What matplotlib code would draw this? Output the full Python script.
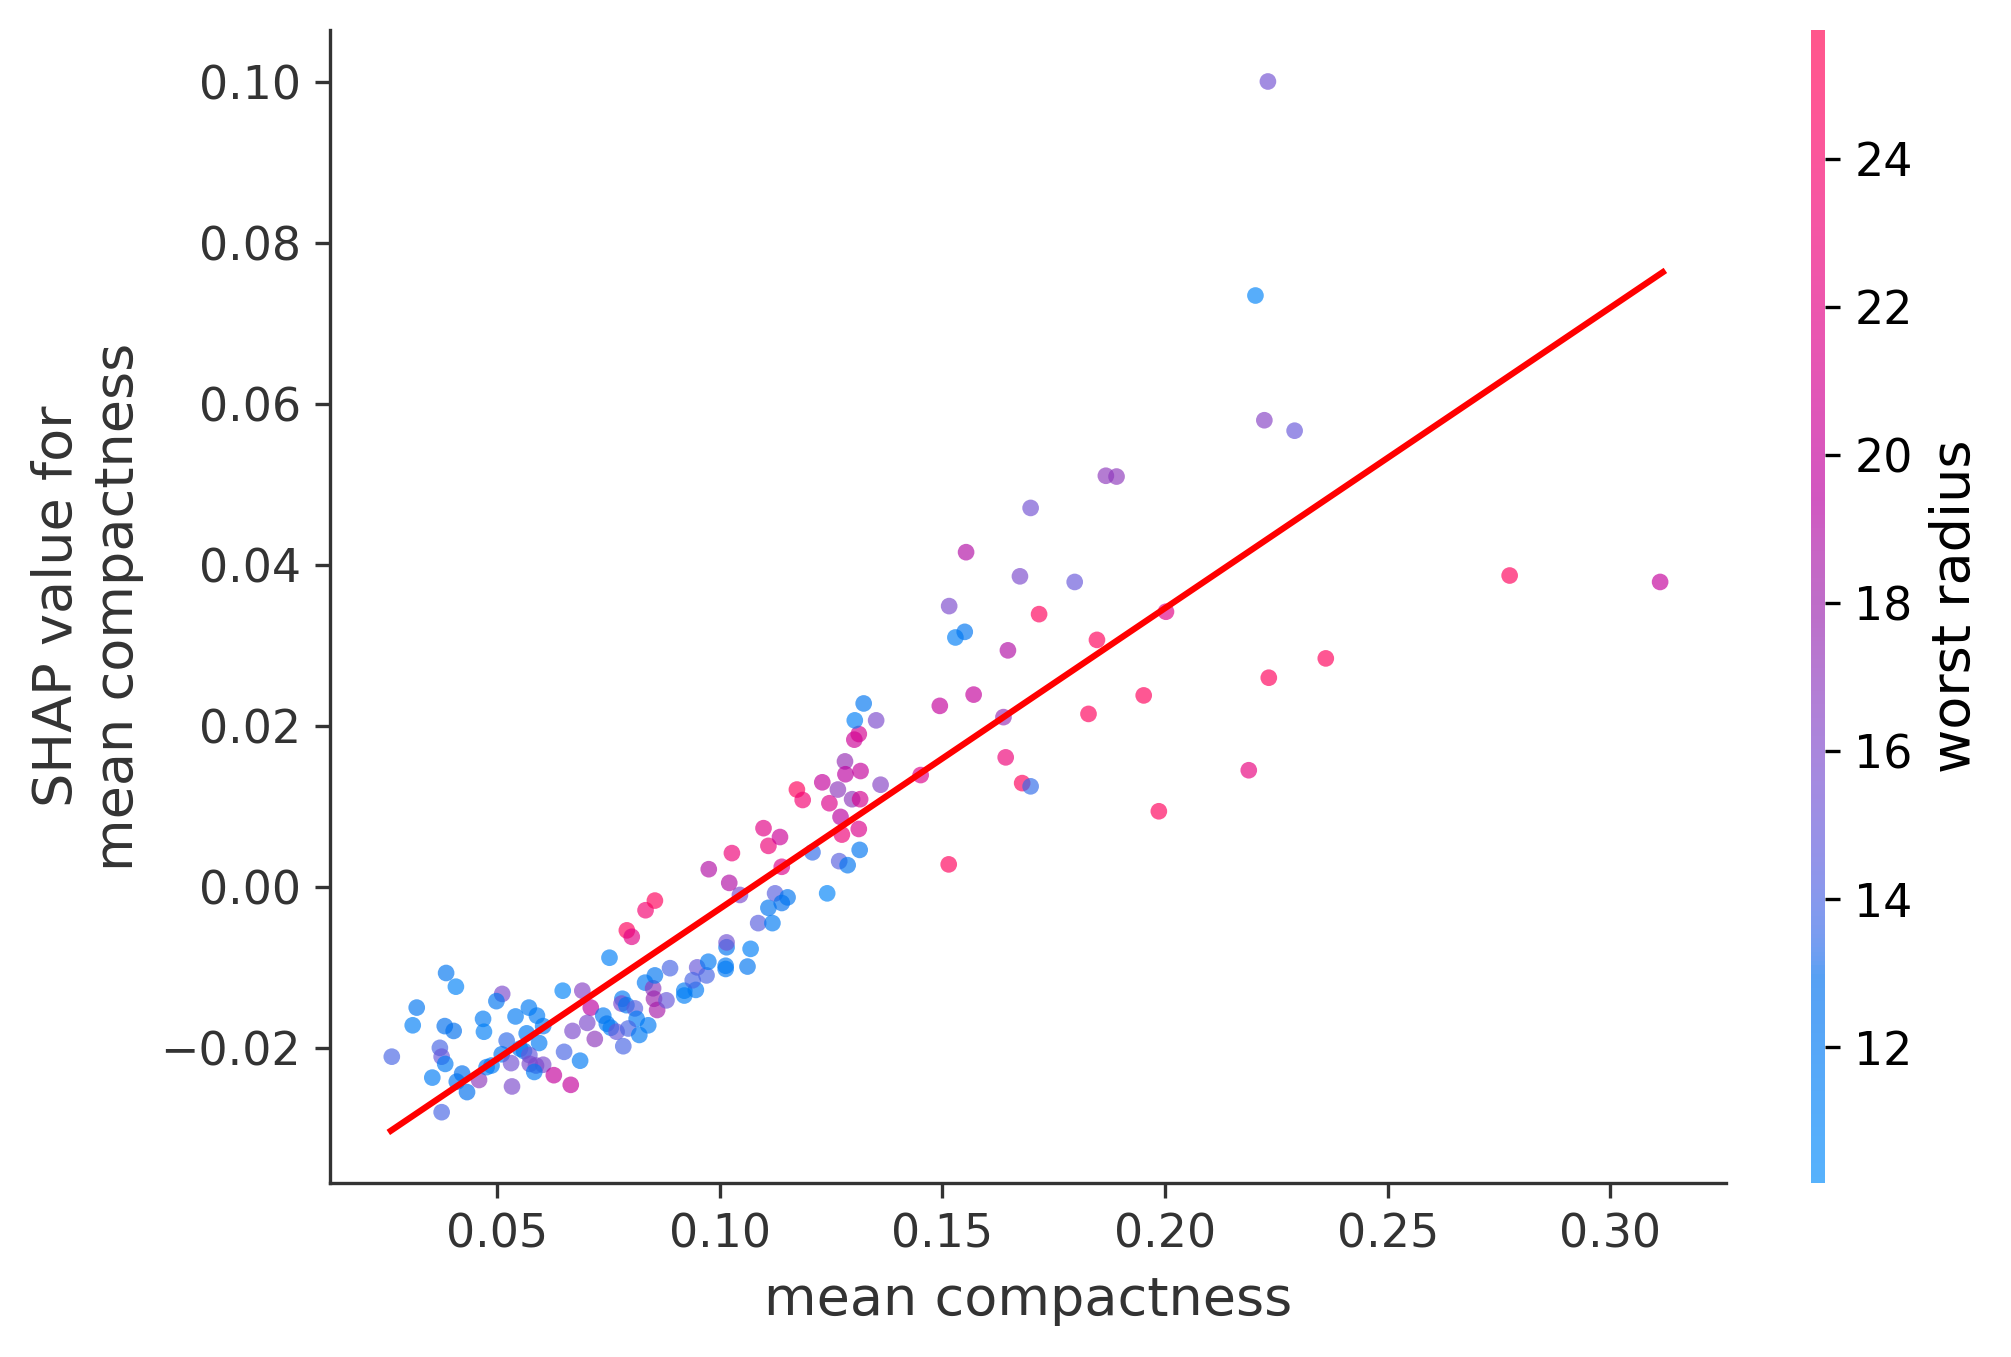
import numpy as np
import matplotlib
matplotlib.use("Agg")
import matplotlib.pyplot as plt
from matplotlib.colors import LinearSegmentedColormap, Normalize
from matplotlib.cm import ScalarMappable

# ---------------- data ----------------
mean_compactness = [
    0.0263, 0.0385, 0.0407, 0.0319, 0.0310, 0.0382, 0.0402, 0.0371, 0.0375, 0.0383,
    0.0354, 0.0375, 0.0432, 0.0409, 0.0421, 0.0459, 0.0476, 0.0487, 0.0511, 0.0498,
    0.0468, 0.0470, 0.0541, 0.0571, 0.0589, 0.0603, 0.0566, 0.0521, 0.0594, 0.0510,
    0.0551, 0.0560, 0.0531, 0.0572, 0.0573, 0.0587, 0.0603, 0.0583, 0.0533, 0.0627,
    0.0665, 0.0650, 0.0686, 0.0669, 0.0647, 0.0691, 0.0710, 0.0702, 0.0719, 0.0738,
    0.0746, 0.0755, 0.0768, 0.0783, 0.0781, 0.0779, 0.0790, 0.0809, 0.0813, 0.0794,
    0.0819, 0.0839, 0.0832, 0.0850, 0.0854, 0.0852, 0.0859, 0.0880, 0.0888, 0.0920,
    0.0920, 0.0946, 0.0949, 0.0970, 0.0974, 0.0939, 0.1015, 0.1015, 0.1013, 0.1013,
    0.1062, 0.1069, 0.0752, 0.0791, 0.0802,
    0.0833, 0.0854, 0.1045, 0.1021, 0.0975, 0.1027, 0.1086, 0.1118, 0.1109, 0.1124,
    0.1139, 0.1152, 0.1139, 0.1098, 0.1109, 0.1135, 0.1208, 0.1173, 0.1186, 0.1230,
    0.1246, 0.1271, 0.1274, 0.1265, 0.1281, 0.1282, 0.1316, 0.1297, 0.1315, 0.1312,
    0.1268, 0.1287, 0.1314, 0.1241, 0.1361, 0.1451, 0.1494, 0.1514, 0.1302, 0.1312,
    0.1303, 0.1323, 0.1351,
    0.1867, 0.1891, 0.1698, 0.1553, 0.1674, 0.1797, 0.1515, 0.1717, 0.1529, 0.1550,
    0.1647, 0.1847, 0.2002, 0.2361, 0.2233, 0.1570, 0.1952, 0.1828, 0.1637, 0.1642,
    0.1679, 0.1698, 0.2188, 0.1986,
    0.2231, 0.2203, 0.2223, 0.2291, 0.2774, 0.3112,
]
shap_values = [
    -0.0211, -0.0107, -0.0124, -0.0150, -0.0172, -0.0173, -0.0179, -0.0200, -0.0211, -0.0220,
    -0.0237, -0.0280, -0.0255, -0.0242, -0.0232, -0.0240, -0.0224, -0.0222, -0.0133, -0.0142,
    -0.0164, -0.0180, -0.0161, -0.0150, -0.0160, -0.0173, -0.0182, -0.0191, -0.0194, -0.0208,
    -0.0201, -0.0204, -0.0219, -0.0209, -0.0220, -0.0222, -0.0221, -0.0230, -0.0248, -0.0234,
    -0.0246, -0.0205, -0.0216, -0.0179, -0.0129, -0.0129, -0.0150, -0.0169, -0.0189, -0.0160,
    -0.0170, -0.0175, -0.0180, -0.0198, -0.0139, -0.0145, -0.0147, -0.0151, -0.0164, -0.0176,
    -0.0184, -0.0172, -0.0119, -0.0126, -0.0110, -0.0139, -0.0153, -0.0141, -0.0101, -0.0129,
    -0.0135, -0.0128, -0.0100, -0.0110, -0.0093, -0.0116, -0.0075, -0.0069, -0.0098, -0.0102,
    -0.0099, -0.0077, -0.0088, -0.0054, -0.0062,
    -0.0029, -0.0017, -0.0010, 0.0005, 0.0022, 0.0042, -0.0045, -0.0045, -0.0026, -0.0008,
    -0.0020, -0.0013, 0.0025, 0.0073, 0.0051, 0.0062, 0.0043, 0.0121, 0.0108, 0.0130,
    0.0104, 0.0087, 0.0065, 0.0121, 0.0156, 0.0140, 0.0144, 0.0109, 0.0109, 0.0072,
    0.0032, 0.0027, 0.0046, -0.0008, 0.0127, 0.0139, 0.0225, 0.0028, 0.0183, 0.0190,
    0.0207, 0.0228, 0.0207,
    0.0511, 0.0510, 0.0471, 0.0416, 0.0386, 0.0379, 0.0349, 0.0339, 0.0310, 0.0317,
    0.0294, 0.0307, 0.0342, 0.0284, 0.0260, 0.0239, 0.0238, 0.0215, 0.0211, 0.0161,
    0.0129, 0.0125, 0.0145, 0.0094,
    0.1001, 0.0735, 0.0580, 0.0567, 0.0387, 0.0379,
]
worst_radius = [
    14.0, 12.5, 11.2, 12.5, 11.5, 13.0, 13.0, 14.0, 15.0, 12.0,
    11.8, 14.0, 13.0, 12.5, 13.0, 17.0, 12.0, 12.0, 16.0, 12.5,
    12.0, 11.5, 12.0, 12.0, 12.0, 12.0, 12.0, 13.5, 12.0, 12.5,
    12.0, 12.5, 15.5, 15.0, 16.0, 16.0, 16.0, 12.0, 16.0, 20.0,
    20.0, 14.0, 12.0, 16.0, 11.0, 16.5, 19.5, 16.0, 17.0, 12.0,
    12.5, 12.0, 15.0, 14.0, 12.0, 16.0, 12.5, 14.5, 12.0, 14.0,
    12.0, 12.0, 12.0, 17.0, 12.5, 18.0, 18.5, 15.0, 14.0, 12.0,
    11.5, 12.0, 15.0, 14.0, 12.0, 14.0, 12.5, 15.5, 12.0, 12.0,
    12.5, 11.5, 11.5, 25.0, 22.0,
    23.5, 25.0, 16.0, 19.0, 19.0, 23.0, 14.5, 12.0, 12.5, 14.5,
    13.0, 12.5, 21.5, 22.0, 23.0, 20.5, 13.5, 25.0, 23.5, 20.0,
    21.5, 19.5, 23.0, 17.0, 17.5, 19.5, 20.0, 17.0, 21.0, 21.5,
    14.5, 12.5, 12.5, 11.0, 16.5, 21.5, 20.0, 25.0, 20.5, 21.0,
    11.5, 12.5, 16.0,
    17.0, 17.0, 15.5, 19.0, 16.0, 15.0, 16.0, 25.0, 11.5, 12.5,
    19.0, 25.0, 22.0, 25.0, 25.0, 20.0, 25.0, 25.0, 17.5, 23.0,
    25.0, 13.5, 22.5, 25.0,
    15.5, 11.0, 16.5, 15.0, 25.0, 20.0,
]
fit_x = [0.0261, 0.3118]
fit_y = [-0.0303, 0.0764]
color_low, color_high = 10.17, 25.74
cbar_ticks = [12, 14, 16, 18, 20, 22, 24]

# ---------------- SHAP-like red_blue colormap ----------------
def lch_to_rgb(L, C, H):
    a = C * np.cos(H)
    b = C * np.sin(H)
    fy = (L + 16) / 116.0
    fx = fy + a / 500.0
    fz = fy - b / 200.0
    d = 6 / 29

    def finv(t):
        return t ** 3 if t > d else 3 * d * d * (t - 4 / 29)

    X = 0.95047 * finv(fx)
    Y = 1.0 * finv(fy)
    Z = 1.08883 * finv(fz)
    r = 3.2404542 * X - 1.5371385 * Y - 0.4985314 * Z
    g = -0.9692660 * X + 1.8760108 * Y + 0.0415560 * Z
    bb = 0.0556434 * X - 0.2040259 * Y + 1.0572252 * Z
    out = []
    for v in (r, g, bb):
        v = 12.92 * v if v <= 0.0031308 else 1.055 * v ** (1 / 2.4) - 0.055
        out.append(min(max(v, 0.0), 1.0))
    return out

ALPHA = 0.66
nsteps = 100
l_vals = list(np.linspace(54.0, 40.0, nsteps // 2)) + list(np.linspace(40.0, 54.0, nsteps // 2))
c_vals = np.linspace(70.0, 90.0, nsteps)
h_vals = np.linspace(4.6588, 0.35470565 + 2 * np.pi, nsteps)
cols = np.array([lch_to_rgb(l, c, h) for l, c, h in zip(l_vals, c_vals, h_vals)])
red_blue = LinearSegmentedColormap.from_list("red_blue", cols)
red_blue_light = LinearSegmentedColormap.from_list("red_blue_light", cols * ALPHA + (1 - ALPHA))

# ---------------- figure ----------------
W, H = 2011, 1357
fig = plt.figure(figsize=(W / 300, H / 300), dpi=300)
ax = fig.add_axes([330 / W, 174 / H, 1396 / W, 1153 / H])
cax = fig.add_axes([1811 / W, 174 / H, 14 / W, 1153 / H])

norm = Normalize(vmin=color_low, vmax=color_high)
sc = ax.scatter(mean_compactness, shap_values, c=worst_radius, s=16, cmap=red_blue,
                norm=norm, alpha=ALPHA, linewidths=0, zorder=2)
ax.plot(fit_x, fit_y, color="red", lw=1.5, zorder=3)

ax.set_xlim(0.01242, 0.3260)
ax.set_ylim(-0.0368, 0.1065)
ax.set_xticks([0.05, 0.10, 0.15, 0.20, 0.25, 0.30])
ax.set_yticks([-0.02, 0.00, 0.02, 0.04, 0.06, 0.08, 0.10])
ax.set_xticklabels(["0.05", "0.10", "0.15", "0.20", "0.25", "0.30"])
ax.set_yticklabels(["\u22120.02", "0.00", "0.02", "0.04", "0.06", "0.08", "0.10"])

for side in ("top", "right"):
    ax.spines[side].set_visible(False)
for side in ("left", "bottom"):
    ax.spines[side].set_color("#333333")
ax.tick_params(axis="both", colors="#333333", labelcolor="#333333", labelsize=11)
ax.set_xlabel("mean compactness", fontsize=13, color="#333333")
ax.set_ylabel("SHAP value for\nmean compactness", fontsize=13, color="#333333")

sm = ScalarMappable(norm=norm, cmap=red_blue_light)
cb = fig.colorbar(sm, cax=cax, ticks=cbar_ticks)
cb.outline.set_visible(False)
cb.solids.set_edgecolor("face")
cb.ax.tick_params(labelsize=11)
cb.set_label("worst radius", size=13)

fig.savefig("out.png", dpi=300)
